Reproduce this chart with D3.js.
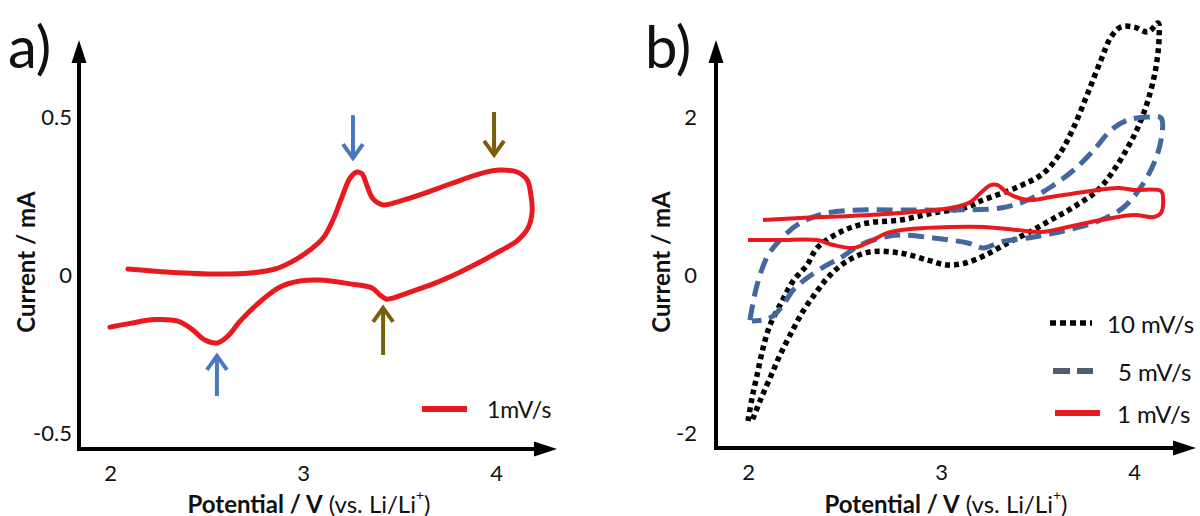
<!DOCTYPE html>
<html>
<head>
<meta charset="utf-8">
<script src="https://cdn.jsdelivr.net/npm/d3@7"></script>
<style>
  body { margin: 0; background: #fff; }
  svg { display: block; }
  text { font-family: Lato, "Open Sans", sans-serif; fill: #111; }
</style>
</head>
<body>
<svg id="chart" width="1200" height="516"></svg>
<script>
// ---- tick values ----
const xTicks = [2, 3, 4];
const yTicksA = [-0.5, 0, 0.5];
const yTicksB = [-2, 0, 2];

// ---- panel a: cyclic voltammogram at 1 mV/s, [potential V, current mA] ----
const cvA_1mVs = [
  [2.093, 0.019], [2.311, 0.009], [2.554, 0.003], [2.725, 0.006], [2.855, 0.019],
  [2.948, 0.044], [3.036, 0.079], [3.104, 0.117], [3.155, 0.174], [3.202, 0.247],
  [3.244, 0.307], [3.280, 0.326], [3.306, 0.320], [3.332, 0.282], [3.363, 0.241],
  [3.415, 0.222], [3.503, 0.234], [3.632, 0.259], [3.762, 0.288], [3.933, 0.323],
  [4.021, 0.332], [4.109, 0.326], [4.161, 0.301], [4.181, 0.253], [4.187, 0.199],
  [4.166, 0.149], [4.109, 0.108], [4.021, 0.076], [3.917, 0.041], [3.813, 0.009],
  [3.674, -0.028], [3.554, -0.054], [3.466, -0.073], [3.430, -0.076], [3.399, -0.063],
  [3.358, -0.041], [3.244, -0.028], [3.088, -0.016], [2.984, -0.019], [2.881, -0.038],
  [2.777, -0.085], [2.674, -0.146], [2.611, -0.193], [2.554, -0.215], [2.492, -0.206],
  [2.425, -0.172], [2.352, -0.146], [2.233, -0.141], [2.104, -0.153], [2.000, -0.165]
];

// peak markers in panel a: [potential, arrow tip current, arrow tail current]
const peaksA_blue = [[3.259, 0.370, 0.506], [2.554, -0.256, -0.383]];
const peaksA_olive = [[3.990, 0.380, 0.516], [3.415, -0.104, -0.253]];

// ---- panel b: scan-rate series ----
const cvB_10mVs = [
  [2.000, -1.848], [2.021, -1.557], [2.047, -1.266], [2.078, -0.924], [2.114, -0.633],
  [2.177, -0.329], [2.234, -0.076], [2.306, 0.127], [2.358, 0.342], [2.478, 0.544],
  [2.618, 0.658], [2.790, 0.696], [2.961, 0.785], [3.138, 0.861], [3.205, 0.937],
  [3.397, 1.114], [3.532, 1.291], [3.621, 1.557], [3.688, 1.873], [3.761, 2.304],
  [3.829, 2.722], [3.881, 3.013], [3.932, 3.139], [4.000, 3.139], [4.073, 3.076],
  [4.125, 3.190], [4.130, 3.013], [4.114, 2.633], [4.073, 2.215], [4.021, 1.873],
  [3.969, 1.620], [3.896, 1.329], [3.813, 1.076], [3.688, 0.861], [3.569, 0.696],
  [3.449, 0.532], [3.345, 0.405], [3.231, 0.253], [3.127, 0.152], [3.029, 0.127],
  [2.930, 0.190], [2.790, 0.278], [2.629, 0.291], [2.514, 0.177], [2.426, 0.000],
  [2.358, -0.203], [2.286, -0.456], [2.229, -0.709], [2.166, -1.013], [2.114, -1.304],
  [2.062, -1.595], [2.021, -1.848]
];

const cvB_5mVs = [
  [2.010, -0.570], [2.021, -0.418], [2.047, -0.127], [2.099, 0.228], [2.166, 0.443],
  [2.270, 0.658], [2.410, 0.785], [2.582, 0.823], [2.790, 0.823], [3.049, 0.823],
  [3.309, 0.848], [3.449, 0.949], [3.569, 1.114], [3.688, 1.329], [3.792, 1.582],
  [3.881, 1.835], [3.969, 1.962], [4.073, 2.000], [4.140, 1.987], [4.140, 1.709],
  [4.104, 1.418], [4.036, 1.114], [3.948, 0.861], [3.829, 0.696], [3.657, 0.570],
  [3.481, 0.481], [3.309, 0.418], [3.221, 0.342], [3.138, 0.405], [2.961, 0.468],
  [2.790, 0.506], [2.686, 0.468], [2.582, 0.380], [2.478, 0.215], [2.410, 0.127],
  [2.306, -0.038], [2.234, -0.190], [2.182, -0.380], [2.130, -0.519], [2.078, -0.570],
  [2.021, -0.582]
];

const cvB_1mVs = [
  [2.000, 0.443], [2.166, 0.443], [2.358, 0.443], [2.442, 0.380], [2.545, 0.342],
  [2.618, 0.405], [2.722, 0.532], [2.842, 0.582], [3.049, 0.608], [3.221, 0.608],
  [3.397, 0.570], [3.517, 0.544], [3.657, 0.608], [3.829, 0.696], [4.000, 0.759],
  [4.104, 0.734], [4.140, 0.785], [4.151, 0.949], [4.140, 1.063], [4.000, 1.076],
  [3.917, 1.101], [3.740, 1.051], [3.569, 0.987], [3.449, 0.949], [3.345, 1.038],
  [3.294, 1.139], [3.257, 1.139], [3.205, 1.038], [3.153, 0.924], [3.049, 0.848],
  [2.790, 0.785], [2.530, 0.747], [2.270, 0.722], [2.078, 0.696]
];

const legendB = ["10 mV/s", "5 mV/s", "1 mV/s"];

// ---- styles ----
const RED = "#e8191f";
const BLUE = "#43679f";
const BLUE_KEY = "#4e5d72";
const ARROW_BLUE = "#4a78bf";
const OLIVE = "#7a5f0a";

const svg = d3.select("#chart");

// plain hyphen for negative tick labels
const hyphen = f => d => f(d).replace("\u2212", "-");

function drawFrame(g, yAxisTop, yAxisX, xAxisY, xAxisEnd) {
  // vertical axis with arrowhead
  g.append("line").attr("x1", yAxisX).attr("x2", yAxisX)
    .attr("y1", xAxisY + 2).attr("y2", yAxisTop + 18)
    .attr("stroke", "#000").attr("stroke-width", 4);
  g.append("path")
    .attr("d", `M${yAxisX},${yAxisTop} L${yAxisX - 7.5},${yAxisTop + 23} L${yAxisX + 7.5},${yAxisTop + 23} Z`)
    .attr("fill", "#000");
  // horizontal axis with arrowhead
  g.append("line").attr("x1", yAxisX - 2).attr("x2", xAxisEnd - 18)
    .attr("y1", xAxisY).attr("y2", xAxisY)
    .attr("stroke", "#000").attr("stroke-width", 4);
  g.append("path")
    .attr("d", `M${xAxisEnd},${xAxisY} L${xAxisEnd - 23},${xAxisY - 7.5} L${xAxisEnd - 23},${xAxisY + 7.5} Z`)
    .attr("fill", "#000");
}

function drawTicks(g, x, y, yTicks, yAxisX, xAxisY, yPad, yFmt) {
  const ax = g.append("g").attr("transform", `translate(${yAxisX},0)`)
    .call(d3.axisLeft(y).tickValues(yTicks).tickSize(0).tickPadding(yPad).tickFormat(yFmt));
  ax.select(".domain").remove();
  ax.selectAll("text").style("font-size", "22px").style("font-family", "Lato, sans-serif").attr("fill", "#111");
  const bx = g.append("g").attr("transform", `translate(0,${xAxisY})`)
    .call(d3.axisBottom(x).tickValues(xTicks).tickSize(0).tickPadding(16).tickFormat(d3.format("d")));
  bx.select(".domain").remove();
  bx.selectAll("text").style("font-size", "22px").style("font-family", "Lato, sans-serif").attr("fill", "#111");
}

function drawTitles(g, yTitleX, xTitleX) {
  g.append("text")
    .attr("transform", `translate(${yTitleX},262) rotate(-90)`)
    .attr("text-anchor", "middle").attr("dominant-baseline", "central")
    .style("font-size", "24px").style("font-weight", "bold")
    .text("Current / mA");
  const t = g.append("text")
    .attr("x", xTitleX).attr("y", 503)
    .attr("text-anchor", "middle").attr("dominant-baseline", "central")
    .style("font-size", "24px");
  t.append("tspan").style("font-weight", "bold").text("Potential / V");
  t.append("tspan").text(" (vs. Li/Li");
  t.append("tspan").attr("baseline-shift", "super").style("font-size", "14px").text("+");
  t.append("tspan").text(")");
}

const line = (x, y) => d3.line().x(d => x(d[0])).y(d => y(d[1])).curve(d3.curveCatmullRom.alpha(0.5));

// ================= panel a =================
const xA = d3.scaleLinear().domain([2, 4]).range([110, 496]);
const yA = d3.scaleLinear().domain([-0.5, 0.5]).range([433, 117]);
const gA = svg.append("g");

gA.append("text").attr("x", 8).attr("y", 68)
  .style("font-size", "58px").style("font-family", "Lato, sans-serif").text("a)");

drawFrame(gA, 40, 79, 449, 557);
drawTicks(gA, xA, yA, yTicksA, 79, 449, 7, hyphen(d => d === 0 ? "0" : d3.format(".1f")(d)));
drawTitles(gA, 25, 309);

gA.append("path").datum(cvA_1mVs)
  .attr("d", line(xA, yA))
  .attr("fill", "none").attr("stroke", RED).attr("stroke-width", 5)
  .attr("stroke-linejoin", "round").attr("stroke-linecap", "round");

// peak arrows
function drawArrow(g, px, tipY, tailY, color) {
  const dir = tailY < tipY ? 1 : -1; // +1 means pointing down
  g.append("line").attr("x1", px).attr("x2", px)
    .attr("y1", tailY).attr("y2", tipY - dir * 2)
    .attr("stroke", color).attr("stroke-width", 4);
  g.append("path")
    .attr("d", `M${px - 10},${tipY - dir * 14} L${px},${tipY} L${px + 10},${tipY - dir * 14}`)
    .attr("fill", "none").attr("stroke", color).attr("stroke-width", 4)
    .attr("stroke-linejoin", "miter");
}
peaksA_blue.forEach(p => drawArrow(gA, xA(p[0]), yA(p[1]), yA(p[2]), ARROW_BLUE));
peaksA_olive.forEach(p => drawArrow(gA, xA(p[0]), yA(p[1]), yA(p[2]), OLIVE));

// legend a
gA.append("line").attr("x1", 422).attr("x2", 467).attr("y1", 409).attr("y2", 409)
  .attr("stroke", RED).attr("stroke-width", 6);
gA.append("text").attr("x", 487).attr("y", 409).attr("dominant-baseline", "central")
  .style("font-size", "23px").text("1mV/s");

// ================= panel b =================
const xB = d3.scaleLinear().domain([2, 4]).range([748, 1134]);
const yB = d3.scaleLinear().domain([-2, 2]).range([433, 117]);
const gB = svg.append("g");

gB.append("text").attr("x", 645).attr("y", 68)
  .style("font-size", "58px").style("font-family", "Lato, sans-serif").text("b)");

drawFrame(gB, 40, 716, 448, 1196);
drawTicks(gB, xB, yB, yTicksB, 716, 448, 19, hyphen(d3.format("d")));
drawTitles(gB, 660, 946);

const seriesB = [
  { data: cvB_10mVs, color: "#000", width: 5.5, dash: "5 4", key: "#000" },
  { data: cvB_5mVs, color: BLUE, width: 5, dash: "16 8", key: BLUE_KEY },
  { data: cvB_1mVs, color: RED, width: 4, dash: null, key: RED }
];

seriesB.forEach(s => {
  gB.append("path").datum(s.data)
    .attr("d", line(xB, yB))
    .attr("fill", "none").attr("stroke", s.color).attr("stroke-width", s.width)
    .attr("stroke-dasharray", s.dash)
    .attr("stroke-linejoin", "round");
});

// legend b
const keyRows = [
  { y: 323, x1: 1050, x2: 1092, tx: 1107, w: 5.5, dash: "6 4" },
  { y: 371, x1: 1053, x2: 1093, tx: 1118, w: 6, dash: "17 7" },
  { y: 413, x1: 1055, x2: 1100, tx: 1117, w: 6, dash: null }
];
keyRows.forEach((r, i) => {
  gB.append("line").attr("x1", r.x1).attr("x2", r.x2).attr("y1", r.y).attr("y2", r.y)
    .attr("stroke", seriesB[i].key).attr("stroke-width", r.w)
    .attr("stroke-dasharray", r.dash);
  gB.append("text").attr("x", r.tx).attr("y", r.y).attr("dominant-baseline", "central")
    .style("font-size", "24px").text(legendB[i]);
});
</script>
</body>
</html>
